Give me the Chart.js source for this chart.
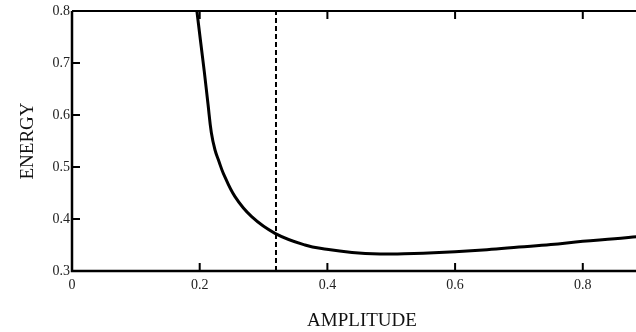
<!DOCTYPE html>
<html>
<head>
<meta charset="utf-8">
<script src="https://cdn.jsdelivr.net/npm/chart.js@4/dist/chart.umd.min.js"></script>
<style>
  html, body { margin: 0; padding: 0; background: #fff; overflow: hidden; }
</style>
</head>
<body>
<canvas id="chart" width="652" height="332"></canvas>
<script>
// Values
const amplitude = [0.1956, 0.2013, 0.2072, 0.213, 0.2182, 0.224, 0.2302, 0.237, 0.2553, 0.2814, 0.3179, 0.3649, 0.3989, 0.4385, 0.4824, 0.52, 0.55, 0.6, 0.65, 0.7, 0.75, 0.8, 0.85, 0.884];
const energy = [0.800, 0.7423, 0.6833, 0.6212, 0.5663, 0.5327, 0.5106, 0.4879, 0.4429, 0.4044, 0.3725, 0.350, 0.3417, 0.3356, 0.3327, 0.333, 0.334, 0.337, 0.341, 0.346, 0.351, 0.357, 0.362, 0.366];
const criticalAmplitude = 0.3195;
const xTicks = [0, 0.2, 0.4, 0.6, 0.8];
const xTickLabels = ["0", "0.2", "0.4", "0.6", "0.8"];
const yTicks = [0.3, 0.4, 0.5, 0.6, 0.7, 0.8];
const yTickLabels = ["0.3", "0.4", "0.5", "0.6", "0.7", "0.8"];
const xMin = 0, xMax = 0.9084, yMin = 0.3, yMax = 0.8;

const serif = "'Liberation Serif', 'DejaVu Serif', serif";

// frame with inward tick marks
const framePlugin = {
  id: "frame",
  afterDatasetsDraw(chart) {
    const { ctx, chartArea: a, scales } = chart;
    const xs = scales.x, ys = scales.y;
    ctx.save();
    ctx.strokeStyle = "#000";
    ctx.lineWidth = 2.5;
    ctx.beginPath();
    ctx.moveTo(a.left, a.top);
    ctx.lineTo(a.left, a.bottom);
    ctx.lineTo(a.right, a.bottom);
    ctx.stroke();
    ctx.lineWidth = 1.8;
    ctx.beginPath();
    ctx.moveTo(a.left, a.top);
    ctx.lineTo(a.right, a.top);
    ctx.stroke();

    ctx.lineWidth = 2;
    ctx.beginPath();
    xTicks.forEach(v => {
      if (v === xMin) return;
      const px = xs.getPixelForValue(v);
      ctx.moveTo(px, a.bottom);
      ctx.lineTo(px, a.bottom - 8);
      ctx.moveTo(px, a.top);
      ctx.lineTo(px, a.top + 8);
    });
    yTicks.forEach(v => {
      if (v === yMin || v === yMax) return;
      const py = ys.getPixelForValue(v);
      ctx.moveTo(a.left, py);
      ctx.lineTo(a.left + 8, py);
    });
    ctx.stroke();
    ctx.restore();
  }
};

new Chart(document.getElementById("chart").getContext("2d"), {
  type: "line",
  data: {
    datasets: [
      {
        data: amplitude.map((x, i) => ({ x: x, y: energy[i] })),
        borderColor: "#000",
        borderWidth: 3,
        pointRadius: 0,
        tension: 0.4,
        fill: false
      },
      {
        data: [{ x: criticalAmplitude, y: yMin }, { x: criticalAmplitude, y: yMax }],
        borderColor: "#000",
        borderWidth: 2,
        borderDash: [5, 3],
        pointRadius: 0,
        fill: false
      }
    ]
  },
  options: {
    responsive: false,
    animation: false,
    clip: false,
    layout: { padding: { top: 11, right: 0, left: 0, bottom: 0 } },
    plugins: { legend: { display: false }, tooltip: { enabled: false } },
    scales: {
      x: {
        type: "linear",
        min: xMin,
        max: xMax,
        grid: { display: false, drawTicks: false },
        border: { display: false },
        afterBuildTicks: s => { s.ticks = xTicks.map(v => ({ value: v })); },
        afterFit: s => { s.height = 61; },
        ticks: {
          padding: 6,
          maxRotation: 0,
          color: "#222",
          font: { family: serif, size: 14 },
          callback: (v, i) => xTickLabels[i]
        },
        title: {
          display: true,
          text: "AMPLITUDE",
          color: "#111",
          font: { family: serif, size: 19 },
          padding: { top: 0, bottom: 0 }
        }
      },
      y: {
        type: "linear",
        min: yMin,
        max: yMax,
        grid: { display: false, drawTicks: false },
        border: { display: false },
        afterBuildTicks: s => { s.ticks = yTicks.map(v => ({ value: v })); },
        afterFit: s => { s.width = 72; },
        ticks: {
          padding: 2,
          color: "#222",
          font: { family: serif, size: 14 },
          callback: (v, i) => yTickLabels[i]
        },
        title: {
          display: true,
          text: "ENERGY",
          color: "#111",
          font: { family: serif, size: 19 },
          padding: { top: 17, bottom: 17 }
        }
      }
    }
  },
  plugins: [framePlugin]
});
</script>
</body>
</html>
